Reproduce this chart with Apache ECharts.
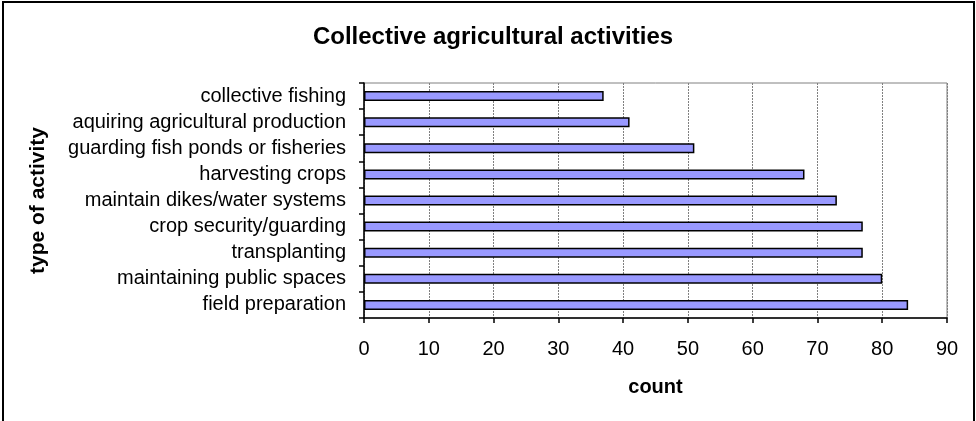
<!DOCTYPE html>
<html>
<head>
<meta charset="utf-8">
<script src="https://cdn.jsdelivr.net/npm/echarts@6/dist/echarts.min.js"></script>
<style>
  html, body { margin: 0; padding: 0; background: #fff; }
  #chart { width: 976px; height: 421px; }
</style>
</head>
<body>
<div id="chart"></div>
<script>
// data, bottom to top as ECharts lays out a category y axis
const activities = [
  "field preparation",
  "maintaining public spaces",
  "transplanting",
  "crop security/guarding",
  "maintain dikes/water systems",
  "harvesting crops",
  "guarding fish ponds or fisheries",
  "aquiring agricultural production",
  "collective fishing"
];
const counts = [84, 80, 77, 77, 73, 68, 51, 41, 37];

const font = "Liberation Sans, Arial, sans-serif";

const chart = echarts.init(document.getElementById("chart"), null, { renderer: "canvas" });

chart.setOption({
  backgroundColor: "#fff",
  animation: false,
  title: {
    text: "Collective agricultural activities",
    left: 488, top: 20, textAlign: "center",
    textStyle: { fontFamily: font, fontSize: 24, fontWeight: "bold", color: "#000" }
  },
  graphic: [{
    type: "rect",
    shape: { x: 3, y: 2, width: 971, height: 440 },
    style: { fill: "none", stroke: "#000", lineWidth: 2 },
    silent: true
  }],
  grid: {
    left: 364, right: 29, top: 83, bottom: 103,
    show: true, borderColor: "#808080", borderWidth: 1, backgroundColor: "transparent"
  },
  xAxis: {
    type: "value", min: 0, max: 90, interval: 10,
    name: "count", nameLocation: "middle", nameGap: 59,
    nameTextStyle: { fontFamily: font, fontSize: 20, fontWeight: "bold", color: "#000" },
    axisLine: { show: true, lineStyle: { color: "#000", width: 1.5 } },
    axisTick: { show: true, length: 5, lineStyle: { color: "#000", width: 1.5 } },
    axisLabel: { fontFamily: font, fontSize: 20, color: "#000", margin: 21 },
    splitLine: { show: true, lineStyle: { color: "#808080", type: [2, 1], width: 1 } }
  },
  yAxis: {
    type: "category", data: activities,
    name: "type of activity", nameLocation: "middle", nameGap: 315, nameRotate: 90,
    nameTextStyle: { fontFamily: font, fontSize: 21, fontWeight: "bold", color: "#000" },
    axisLine: { show: true, lineStyle: { color: "#000", width: 1.5 } },
    axisTick: { show: true, length: 5, lineStyle: { color: "#000", width: 1.5 } },
    axisLabel: { fontFamily: font, fontSize: 20, color: "#000", margin: 18 },
    splitLine: { show: false }
  },
  series: [{
    type: "bar",
    data: counts,
    barWidth: 10,
    itemStyle: { color: "#9999ff", borderColor: "#000", borderWidth: 1.5 }
  }]
});
</script>
</body>
</html>
